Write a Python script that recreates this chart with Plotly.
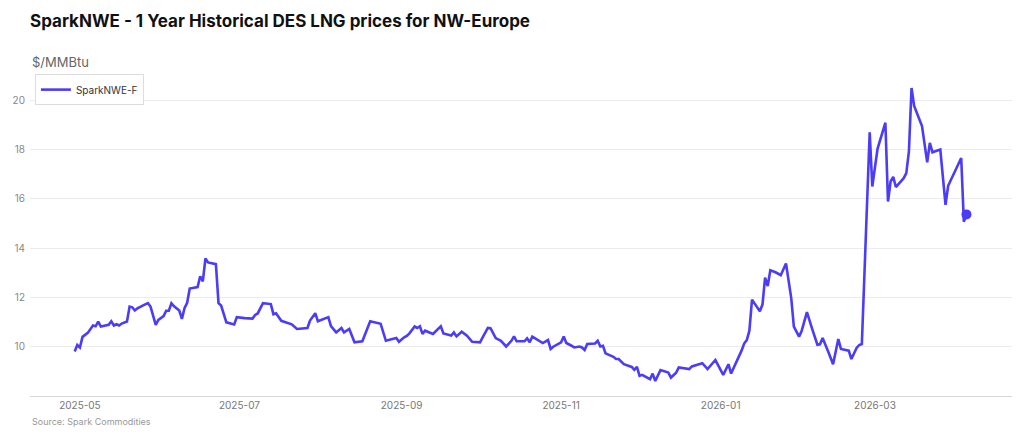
import plotly.graph_objects as go

dates = [
    "2025-04-29", "2025-04-30", "2025-05-01", "2025-05-02", "2025-05-04", "2025-05-06", "2025-05-07",
    "2025-05-08", "2025-05-09", "2025-05-11", "2025-05-12", "2025-05-13", "2025-05-14", "2025-05-15",
    "2025-05-16", "2025-05-17", "2025-05-19", "2025-05-20", "2025-05-21", "2025-05-22", "2025-05-23",
    "2025-05-25", "2025-05-27", "2025-05-28", "2025-05-29", "2025-05-30", "2025-05-31", "2025-06-02",
    "2025-06-03", "2025-06-04", "2025-06-05", "2025-06-06", "2025-06-08", "2025-06-09", "2025-06-10",
    "2025-06-11", "2025-06-12", "2025-06-15", "2025-06-16", "2025-06-17", "2025-06-18", "2025-06-19",
    "2025-06-22", "2025-06-23", "2025-06-24", "2025-06-26", "2025-06-29", "2025-06-30", "2025-07-03",
    "2025-07-06", "2025-07-07", "2025-07-08", "2025-07-10", "2025-07-13", "2025-07-14", "2025-07-15",
    "2025-07-17", "2025-07-21", "2025-07-23", "2025-07-27", "2025-07-28", "2025-07-30", "2025-07-31",
    "2025-08-02", "2025-08-04", "2025-08-05", "2025-08-07", "2025-08-09", "2025-08-10", "2025-08-12",
    "2025-08-14", "2025-08-17", "2025-08-20", "2025-08-24", "2025-08-26", "2025-08-30", "2025-08-31",
    "2025-09-02", "2025-09-03", "2025-09-04", "2025-09-06", "2025-09-07", "2025-09-08", "2025-09-09",
    "2025-09-10", "2025-09-13", "2025-09-16", "2025-09-17", "2025-09-20", "2025-09-21", "2025-09-22",
    "2025-09-24", "2025-09-26", "2025-09-28", "2025-10-01", "2025-10-02", "2025-10-04", "2025-10-05",
    "2025-10-07", "2025-10-09", "2025-10-11", "2025-10-13", "2025-10-14", "2025-10-15", "2025-10-18",
    "2025-10-19", "2025-10-20", "2025-10-21", "2025-10-23", "2025-10-25", "2025-10-27", "2025-10-28",
    "2025-10-29", "2025-11-01", "2025-11-02", "2025-11-03", "2025-11-05", "2025-11-06", "2025-11-08",
    "2025-11-09", "2025-11-10", "2025-11-11", "2025-11-14", "2025-11-15", "2025-11-16", "2025-11-17",
    "2025-11-18", "2025-11-21", "2025-11-22", "2025-11-23", "2025-11-25", "2025-11-28", "2025-11-29",
    "2025-11-30", "2025-12-01", "2025-12-02", "2025-12-05", "2025-12-06", "2025-12-07", "2025-12-09",
    "2025-12-12", "2025-12-13", "2025-12-15", "2025-12-16", "2025-12-20", "2025-12-21", "2025-12-25",
    "2025-12-27", "2025-12-30", "2026-01-02", "2026-01-04", "2026-01-05", "2026-01-09", "2026-01-10",
    "2026-01-11", "2026-01-12", "2026-01-13", "2026-01-16", "2026-01-17", "2026-01-18", "2026-01-19",
    "2026-01-20", "2026-01-22", "2026-01-24", "2026-01-26", "2026-01-28", "2026-01-29", "2026-01-31",
    "2026-02-01", "2026-02-03", "2026-02-05", "2026-02-07", "2026-02-08", "2026-02-09", "2026-02-11",
    "2026-02-13", "2026-02-15", "2026-02-16", "2026-02-19", "2026-02-20", "2026-02-22", "2026-02-23",
    "2026-02-24", "2026-02-27", "2026-02-28", "2026-03-02", "2026-03-05", "2026-03-06", "2026-03-07",
    "2026-03-08", "2026-03-09", "2026-03-12", "2026-03-13", "2026-03-14", "2026-03-15", "2026-03-16",
    "2026-03-19", "2026-03-21", "2026-03-22", "2026-03-23", "2026-03-26", "2026-03-28", "2026-03-29",
    "2026-04-03", "2026-04-04", "2026-04-05",
]

spark_nwe_f = [
    9.81, 10.07, 9.97, 10.40, 10.56, 10.86, 10.83,
    11.02, 10.82, 10.86, 10.89, 11.03, 10.86, 10.91,
    10.86, 10.94, 11.02, 11.63, 11.60, 11.47, 11.56,
    11.67, 11.77, 11.63, 11.20, 10.89, 11.09, 11.24,
    11.46, 11.46, 11.76, 11.64, 11.47, 11.13, 11.56,
    11.78, 12.36, 12.42, 12.86, 12.65, 13.58, 13.42,
    13.35, 11.77, 11.67, 10.99, 10.90, 11.20, 11.16,
    11.14, 11.29, 11.35, 11.77, 11.73, 11.32, 11.36,
    11.05, 10.91, 10.72, 10.76, 11.06, 11.36, 11.03,
    11.10, 11.20, 10.84, 10.58, 10.76, 10.58, 10.72,
    10.18, 10.22, 11.03, 10.93, 10.24, 10.35, 10.20,
    10.38, 10.44, 10.54, 10.82, 10.76, 10.83, 10.52,
    10.65, 10.52, 10.83, 10.54, 10.45, 10.58, 10.42,
    10.61, 10.45, 10.20, 10.18, 10.38, 10.76, 10.75,
    10.35, 10.24, 10.01, 10.24, 10.42, 10.22, 10.22,
    10.34, 10.18, 10.41, 10.27, 10.15, 10.27, 9.91,
    10.00, 10.18, 10.41, 10.15, 10.04, 9.97, 10.01,
    9.97, 9.87, 10.11, 10.13, 10.24, 10.01, 10.04,
    9.73, 9.59, 9.50, 9.50, 9.29, 9.18, 9.06,
    9.18, 8.82, 8.86, 8.68, 8.91, 8.61, 9.05,
    8.95, 8.75, 8.95, 9.16, 9.09, 9.20, 9.33,
    9.09, 9.46, 8.86, 9.29, 8.91, 9.84, 10.13,
    10.27, 10.65, 11.91, 11.44, 11.71, 12.80, 12.46,
    13.10, 13.02, 12.90, 13.38, 11.97, 10.82, 10.41,
    10.65, 11.40, 10.72, 10.08, 10.10, 10.35, 9.84,
    9.29, 10.31, 9.91, 9.84, 9.50, 9.95, 10.07,
    10.11, 18.70, 16.50, 18.03, 19.09, 15.89, 16.71,
    16.89, 16.48, 16.84, 17.04, 17.93, 20.50, 19.77,
    18.95, 17.48, 18.27, 17.89, 18.00, 15.76, 16.53,
    17.66, 15.07, 15.37,
]

x_tick_vals = ["2025-05-01", "2025-07-01", "2025-09-01", "2025-11-01", "2026-01-01", "2026-03-01"]
x_tick_text = ["2025-05", "2025-07", "2025-09", "2025-11", "2026-01", "2026-03"]
y_tick_vals = [10, 12, 14, 16, 18, 20]

LINE = "#4B3CF7"
FONT = "Inter, 'Open Sans', sans-serif"

fig = go.Figure()
fig.add_trace(go.Scatter(
    x=dates, y=spark_nwe_f, mode="lines", name="SparkNWE-F",
    line=dict(color=LINE, width=2.6),
))
fig.add_trace(go.Scatter(
    x=dates[-1:], y=spark_nwe_f[-1:], mode="markers", showlegend=False,
    marker=dict(color=LINE, size=10),
))

fig.update_layout(
    width=1024, height=439,
    margin=dict(l=30, r=12, t=85, b=43),
    paper_bgcolor="white", plot_bgcolor="white",
    font=dict(family=FONT, color="#555"),
    title=dict(
        text="<b>SparkNWE - 1 Year Historical DES LNG prices for NW-Europe</b>",
        x=30 / 1024, xanchor="left", y=1 - 21 / 439, yanchor="middle",
        font=dict(size=17, color="#111", family=FONT),
    ),
    showlegend=True,
    legend=dict(
        x=0.005, xanchor="left", y=1.035, yanchor="top",
        bgcolor="white", bordercolor="#dddddd", borderwidth=1,
        font=dict(size=10, color="#333"),
    ),
    xaxis=dict(
        range=["2025-04-11 22:00", "2026-04-22 10:00"],
        tickvals=x_tick_vals, ticktext=x_tick_text,
        showgrid=False, zeroline=False,
        showline=True, linecolor="#d6d6d6", linewidth=1,
        ticks="", tickfont=dict(size=10, color="#777"),
    ),
    yaxis=dict(
        range=[8, 20.62],
        tickvals=y_tick_vals,
        showgrid=True, gridcolor="#ececec", gridwidth=1,
        zeroline=False, showline=False,
        ticks="", tickfont=dict(size=10, color="#888"),
        ticklabelstandoff=4,
    ),
    annotations=[
        dict(text="$/MMBtu", xref="paper", yref="paper", x=0, y=1 + (85 - 62) / 311,
             xanchor="left", yanchor="middle", showarrow=False,
             font=dict(size=13, color="#666")),
        dict(text="Source: Spark Commodities", xref="paper", yref="paper", x=0,
             y=-(421 - 396) / 311, xanchor="left", yanchor="middle", showarrow=False,
             font=dict(size=9, color="#999")),
    ],
)

fig.write_html("out.html")
